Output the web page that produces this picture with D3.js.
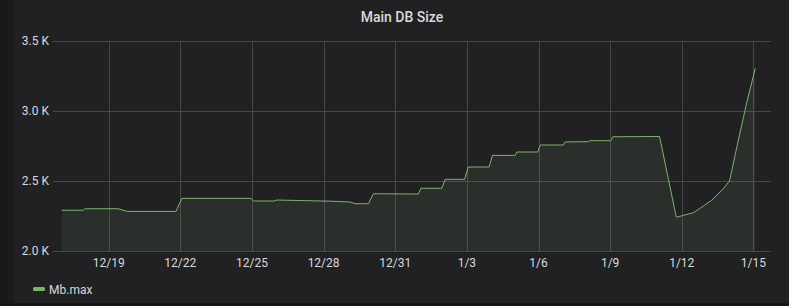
<!DOCTYPE html>
<html>
<head>
<meta charset="utf-8">
<script src="https://cdn.jsdelivr.net/npm/d3@7"></script>
<style>
  html, body { margin: 0; padding: 0; background: #161719; }
  svg { display: block; font-family: Roboto, "Noto Sans", sans-serif; }
</style>
</head>
<body>
<svg id="chart" width="789" height="306"></svg>
<script>
// Serie "Mb.max"
const TEMPI = [
  "2018-12-17T00:45", "2018-12-17T22:30", "2018-12-18T00:00", "2018-12-19T09:30",
  "2018-12-19T18:45", "2018-12-21T19:40", "2018-12-22T01:30", "2018-12-24T23:00",
  "2018-12-25T01:30", "2018-12-25T22:00", "2018-12-26T01:00", "2018-12-28T06:30",
  "2018-12-29T02:40", "2018-12-29T07:40", "2018-12-29T21:00", "2018-12-30T02:00",
  "2018-12-31T23:15", "2019-01-01T01:40", "2019-01-01T22:50", "2019-01-02T02:10",
  "2019-01-02T21:40", "2019-01-03T01:25", "2019-01-03T22:20", "2019-01-04T01:40",
  "2019-01-05T00:30", "2019-01-05T02:10", "2019-01-05T23:15", "2019-01-06T01:40",
  "2019-01-07T01:00", "2019-01-07T02:40", "2019-01-08T02:10", "2019-01-08T03:50",
  "2019-01-09T00:45", "2019-01-09T02:40", "2019-01-11T01:40", "2019-01-11T18:30",
  "2019-01-12T11:45", "2019-01-12T18:30", "2019-01-13T06:15", "2019-01-13T11:30",
  "2019-01-13T17:15", "2019-01-14T00:00", "2019-01-14T07:25", "2019-01-14T17:30",
  "2019-01-15T01:55"
];
const VALORI = [
  2291, 2291, 2302, 2302,
  2283, 2283, 2376, 2376,
  2357, 2357, 2364, 2356,
  2350, 2338, 2338, 2409,
  2407, 2448, 2448, 2512,
  2512, 2600, 2600, 2683,
  2683, 2707, 2707, 2757,
  2757, 2779, 2781, 2788,
  2788, 2816, 2818, 2241,
  2274, 2305, 2364, 2400,
  2441, 2500, 2745, 3066,
  3305
];
const Y_TICKS = [2000, 2500, 3000, 3500];
const X_TICKS = [
  "2018-12-19", "2018-12-22", "2018-12-25", "2018-12-28", "2018-12-31",
  "2019-01-03", "2019-01-06", "2019-01-09", "2019-01-12", "2019-01-15"
];
const TITOLO = "Main DB Size";
const SERIE = "Mb.max";

const COLORE = "#7eb26d";
const TESTO = "#d8d9da";
const GRIGLIA = "#47474a";

const parse = d3.timeParse("%Y-%m-%dT%H:%M");
const parseDay = d3.timeParse("%Y-%m-%d");
const dati = TEMPI.map((t, i) => ({ t: parse(t), v: VALORI[i] }));
const ticksX = X_TICKS.map(parseDay);

const svg = d3.select("#chart");

/* ── PANNELLO ─────────────────────────────── */
svg.append("rect").attr("x", 0).attr("y", 0).attr("width", 789).attr("height", 306).attr("fill", "#161719");
svg.append("rect").attr("x", 8).attr("y", 0).attr("width", 7).attr("height", 303).attr("fill", "#1c1c1f");
svg.append("rect").attr("x", 15).attr("y", 0).attr("width", 774).attr("height", 303).attr("fill", "#212124");

svg.append("text")
  .attr("x", 402).attr("y", 22)
  .attr("text-anchor", "middle")
  .attr("fill", TESTO)
  .attr("font-size", 14)
  .attr("font-weight", 500)
  .text(TITOLO);

/* ── SCALE ────────────────────────────────── */
const mSx = 53, mDx = 771, mAlto = 41, mBasso = 251;
// dominio temporale: 12/19 - 2.33 giorni .. 1/15 + 0.74 giorni
const x = d3.scaleTime()
  .domain([new Date(ticksX[0].getTime() - 2.333 * 864e5), new Date(ticksX[9].getTime() + 0.737 * 864e5)])
  .range([mSx, mDx]);
const y = d3.scaleLinear().domain([2000, 3500]).range([mBasso, mAlto]);

/* ── GRIGLIA E ASSI ───────────────────────── */
const g = svg.append("g");

g.selectAll("line.gy").data(Y_TICKS).join("line")
  .attr("x1", mSx).attr("x2", mDx)
  .attr("y1", d => Math.round(y(d)) + 0.5).attr("y2", d => Math.round(y(d)) + 0.5)
  .attr("stroke", GRIGLIA).attr("stroke-width", 1);

g.selectAll("line.gx").data(ticksX).join("line")
  .attr("x1", d => Math.round(x(d)) + 0.5).attr("x2", d => Math.round(x(d)) + 0.5)
  .attr("y1", mAlto).attr("y2", mBasso)
  .attr("stroke", GRIGLIA).attr("stroke-width", 1);

g.selectAll("text.ty").data(Y_TICKS).join("text")
  .attr("x", mSx - 4).attr("y", d => y(d) + 4)
  .attr("text-anchor", "end")
  .attr("fill", TESTO).attr("font-size", 12)
  .text(d => (d / 1000).toFixed(1) + " K");

const fmt = d3.timeFormat("%-m/%-d");
g.selectAll("text.tx").data(ticksX).join("text")
  .attr("x", d => x(d)).attr("y", 267)
  .attr("text-anchor", "middle")
  .attr("fill", TESTO).attr("font-size", 12)
  .text(d => fmt(d));

/* ── SERIE ────────────────────────────────── */
const area = d3.area().x(d => x(d.t)).y0(y(2000)).y1(d => y(d.v));
const linea = d3.line().x(d => x(d.t)).y(d => y(d.v));

svg.append("path").datum(dati)
  .attr("d", area)
  .attr("fill", COLORE).attr("fill-opacity", 0.1);

svg.append("path").datum(dati)
  .attr("d", linea)
  .attr("fill", "none")
  .attr("stroke", COLORE).attr("stroke-width", 1);

/* ── LEGENDA ──────────────────────────────── */
svg.append("rect")
  .attr("x", 33).attr("y", 287).attr("width", 12).attr("height", 4).attr("rx", 1.5)
  .attr("fill", COLORE);
svg.append("text")
  .attr("x", 49).attr("y", 294)
  .attr("fill", TESTO).attr("font-size", 12)
  .text(SERIE);
</script>
</body>
</html>
